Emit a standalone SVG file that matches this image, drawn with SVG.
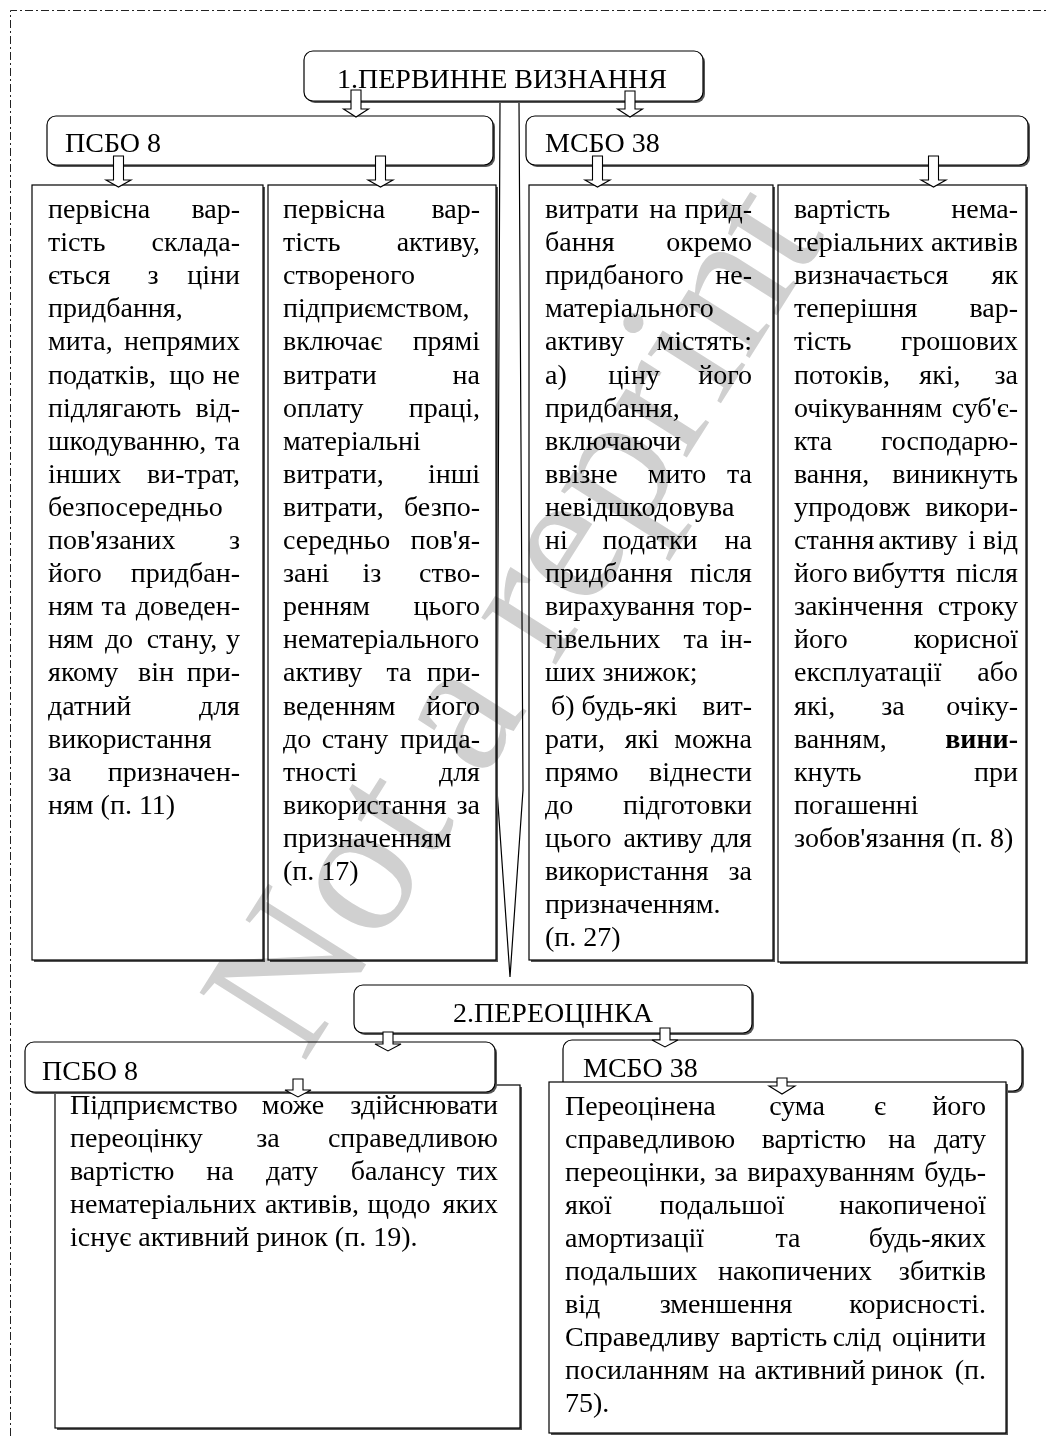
<svg xmlns="http://www.w3.org/2000/svg" width="1046" height="1436" viewBox="0 0 1046 1436">
<style>
.t{font-family:"Liberation Serif","Times New Roman",serif;font-size:28px;fill:#000}
.h{font-family:"Liberation Serif","Times New Roman",serif;font-size:28px;fill:#000}
.e{text-anchor:end}
.m{text-anchor:middle}
.b{font-weight:bold}
.box{fill:#fff;stroke:#000;stroke-width:1.2}
.sh{fill:#555}
.arr{fill:#fff;stroke:#000;stroke-width:1.1;stroke-linejoin:miter}
.wm{font-family:"Liberation Serif","Times New Roman",serif;font-size:192px;fill:#d0d0d0;mix-blend-mode:multiply}
</style>
<rect width="1046" height="1436" fill="#fff"/>
<path d="M10.5,1436 V10.5 H1046" fill="none" stroke="#222" stroke-width="1" stroke-dasharray="8 3 2 3"/>

<g id="connectors">
<polygon class="box" points="500,102 519,102 523,790 510,977 497,790"/>
</g>

<g id="header1">
<rect class="sh" x="306" y="53" width="399" height="50" rx="9"/>
<rect class="box" x="304" y="51" width="399" height="50" rx="9"/>
<text class="h" x="337" y="88">1.ПЕРВИННЕ ВИЗНАННЯ</text>
</g>

<g id="psbo8-1">
<rect class="sh" x="49" y="118" width="446" height="49" rx="9"/>
<rect class="box" x="47" y="116" width="446" height="49" rx="9"/>
<text class="h" x="65" y="152">ПСБО 8</text>
</g>

<g id="msbo38-1">
<rect class="sh" x="528" y="118" width="502" height="49" rx="9"/>
<rect class="box" x="526" y="116" width="502" height="49" rx="9"/>
<text class="h" x="545" y="152">МСБО 38</text>
</g>

<g id="boxA">
<rect class="sh" x="34" y="187" width="231" height="775"/>
<rect class="box" x="32" y="185" width="231" height="775"/>
<text class="t">
<tspan x="48" y="218">первісна</tspan><tspan x="247" y="218" class="e">вар-</tspan>
<tspan x="48" y="251">тість</tspan><tspan x="247" y="251" class="e">склада-</tspan>
<tspan x="48" y="284">ється</tspan><tspan x="153" y="284" class="m">з</tspan><tspan x="247" y="284" class="e">ціни</tspan>
<tspan x="48" y="317">придбання,</tspan>
<tspan x="48" y="350">мита,</tspan><tspan x="247" y="350" class="e">непрямих</tspan>
<tspan x="48" y="384">податків,</tspan><tspan x="187" y="384" class="m">що</tspan><tspan x="247" y="384" class="e">не</tspan>
<tspan x="48" y="417">підлягають</tspan><tspan x="247" y="417" class="e">від-</tspan>
<tspan x="48" y="450">шкодуванню,</tspan><tspan x="247" y="450" class="e">та</tspan>
<tspan x="48" y="483">інших</tspan><tspan x="247" y="483" class="e">ви-трат,</tspan>
<tspan x="48" y="516">безпосередньо</tspan>
<tspan x="48" y="549">пов'язаних</tspan><tspan x="247" y="549" class="e">з</tspan>
<tspan x="48" y="582">його</tspan><tspan x="247" y="582" class="e">придбан-</tspan>
<tspan x="48" y="615">ням</tspan><tspan x="114" y="615" class="m">та</tspan><tspan x="247" y="615" class="e">доведен-</tspan>
<tspan x="48" y="648">ням</tspan><tspan x="119" y="648" class="m">до</tspan><tspan x="182" y="648" class="m">стану,</tspan><tspan x="247" y="648" class="e">у</tspan>
<tspan x="48" y="681">якому</tspan><tspan x="156" y="681" class="m">він</tspan><tspan x="247" y="681" class="e">при-</tspan>
<tspan x="48" y="715">датний</tspan><tspan x="247" y="715" class="e">для</tspan>
<tspan x="48" y="748">використання</tspan>
<tspan x="48" y="781">за</tspan><tspan x="247" y="781" class="e">призначен-</tspan>
<tspan x="48" y="814">ням (п. 11)</tspan>
</text>
</g>

<g id="boxB">
<rect class="sh" x="270" y="187" width="228" height="775"/>
<rect class="box" x="268" y="185" width="228" height="775"/>
<text class="t">
<tspan x="283" y="218">первісна</tspan><tspan x="487" y="218" class="e">вар-</tspan>
<tspan x="283" y="251">тість</tspan><tspan x="487" y="251" class="e">активу,</tspan>
<tspan x="283" y="284">створеного</tspan>
<tspan x="283" y="317">підприємством,</tspan>
<tspan x="283" y="350">включає</tspan><tspan x="487" y="350" class="e">прямі</tspan>
<tspan x="283" y="384">витрати</tspan><tspan x="487" y="384" class="e">на</tspan>
<tspan x="283" y="417">оплату</tspan><tspan x="487" y="417" class="e">праці,</tspan>
<tspan x="283" y="450">матеріальні</tspan>
<tspan x="283" y="483">витрати,</tspan><tspan x="487" y="483" class="e">інші</tspan>
<tspan x="283" y="516">витрати,</tspan><tspan x="487" y="516" class="e">безпо-</tspan>
<tspan x="283" y="549">середньо</tspan><tspan x="487" y="549" class="e">пов'я-</tspan>
<tspan x="283" y="582">зані</tspan><tspan x="372" y="582" class="m">із</tspan><tspan x="487" y="582" class="e">ство-</tspan>
<tspan x="283" y="615">ренням</tspan><tspan x="487" y="615" class="e">цього</tspan>
<tspan x="283" y="648">нематеріального</tspan>
<tspan x="283" y="681">активу</tspan><tspan x="399" y="681" class="m">та</tspan><tspan x="487" y="681" class="e">при-</tspan>
<tspan x="283" y="715">веденням</tspan><tspan x="487" y="715" class="e">його</tspan>
<tspan x="283" y="748">до</tspan><tspan x="355" y="748" class="m">стану</tspan><tspan x="487" y="748" class="e">прида-</tspan>
<tspan x="283" y="781">тності</tspan><tspan x="487" y="781" class="e">для</tspan>
<tspan x="283" y="814">використання</tspan><tspan x="487" y="814" class="e">за</tspan>
<tspan x="283" y="847">призначенням</tspan>
<tspan x="283" y="880">(п. 17)</tspan>
</text>
</g>

<g id="boxC">
<rect class="sh" x="531" y="187" width="244" height="775"/>
<rect class="box" x="529" y="185" width="244" height="775"/>
<text class="t">
<tspan x="545" y="218">витрати</tspan><tspan x="663" y="218" class="m">на</tspan><tspan x="759" y="218" class="e">прид-</tspan>
<tspan x="545" y="251">бання</tspan><tspan x="759" y="251" class="e">окремо</tspan>
<tspan x="545" y="284">придбаного</tspan><tspan x="759" y="284" class="e">не-</tspan>
<tspan x="545" y="317">матеріального</tspan>
<tspan x="545" y="350">активу</tspan><tspan x="759" y="350" class="e">містять:</tspan>
<tspan x="545" y="384">а)</tspan><tspan x="634" y="384" class="m">ціну</tspan><tspan x="759" y="384" class="e">його</tspan>
<tspan x="545" y="417">придбання,</tspan>
<tspan x="545" y="450">включаючи</tspan>
<tspan x="545" y="483">ввізне</tspan><tspan x="677" y="483" class="m">мито</tspan><tspan x="759" y="483" class="e">та</tspan>
<tspan x="545" y="516">невідшкодовува</tspan>
<tspan x="545" y="549">ні</tspan><tspan x="650" y="549" class="m">податки</tspan><tspan x="759" y="549" class="e">на</tspan>
<tspan x="545" y="582">придбання</tspan><tspan x="759" y="582" class="e">після</tspan>
<tspan x="545" y="615">вирахування</tspan><tspan x="759" y="615" class="e">тор-</tspan>
<tspan x="545" y="648">гівельних</tspan><tspan x="696" y="648" class="m">та</tspan><tspan x="759" y="648" class="e">ін-</tspan>
<tspan x="545" y="681">ших знижок;</tspan>
<tspan x="551" y="715">б) будь-які</tspan><tspan x="759" y="715" class="e">вит-</tspan>
<tspan x="545" y="748">рати,</tspan><tspan x="642" y="748" class="m">які</tspan><tspan x="759" y="748" class="e">можна</tspan>
<tspan x="545" y="781">прямо</tspan><tspan x="759" y="781" class="e">віднести</tspan>
<tspan x="545" y="814">до</tspan><tspan x="759" y="814" class="e">підготовки</tspan>
<tspan x="545" y="847">цього</tspan><tspan x="663" y="847" class="m">активу</tspan><tspan x="759" y="847" class="e">для</tspan>
<tspan x="545" y="880">використання</tspan><tspan x="759" y="880" class="e">за</tspan>
<tspan x="545" y="913">призначенням.</tspan>
<tspan x="545" y="946">(п. 27)</tspan>
</text>
</g>

<g id="boxD">
<rect class="sh" x="780" y="187" width="248" height="777"/>
<rect class="box" x="778" y="185" width="248" height="777"/>
<text class="t">
<tspan x="794" y="218">вартість</tspan><tspan x="1025" y="218" class="e">нема-</tspan>
<tspan x="794" y="251">теріальних</tspan><tspan x="1025" y="251" class="e">активів</tspan>
<tspan x="794" y="284">визначається</tspan><tspan x="1025" y="284" class="e">як</tspan>
<tspan x="794" y="317">теперішня</tspan><tspan x="1025" y="317" class="e">вар-</tspan>
<tspan x="794" y="350">тість</tspan><tspan x="1025" y="350" class="e">грошових</tspan>
<tspan x="794" y="384">потоків,</tspan><tspan x="940" y="384" class="m">які,</tspan><tspan x="1025" y="384" class="e">за</tspan>
<tspan x="794" y="417">очікуванням</tspan><tspan x="1025" y="417" class="e">суб'є-</tspan>
<tspan x="794" y="450">кта</tspan><tspan x="1025" y="450" class="e">господарю-</tspan>
<tspan x="794" y="483">вання,</tspan><tspan x="1025" y="483" class="e">виникнуть</tspan>
<tspan x="794" y="516">упродовж</tspan><tspan x="1025" y="516" class="e">викори-</tspan>
<tspan x="794" y="549">стання</tspan><tspan x="918" y="549" class="m">активу</tspan><tspan x="972" y="549" class="m">і</tspan><tspan x="1025" y="549" class="e">від</tspan>
<tspan x="794" y="582">його</tspan><tspan x="899" y="582" class="m">вибуття</tspan><tspan x="1025" y="582" class="e">після</tspan>
<tspan x="794" y="615">закінчення</tspan><tspan x="1025" y="615" class="e">строку</tspan>
<tspan x="794" y="648">його</tspan><tspan x="1025" y="648" class="e">корисної</tspan>
<tspan x="794" y="681">експлуатації</tspan><tspan x="1025" y="681" class="e">або</tspan>
<tspan x="794" y="715">які,</tspan><tspan x="893" y="715" class="m">за</tspan><tspan x="1025" y="715" class="e">очіку-</tspan>
<tspan x="794" y="748">ванням,</tspan><tspan x="1025" y="748" class="e b">вини-</tspan>
<tspan x="794" y="781">кнуть</tspan><tspan x="1025" y="781" class="e">при</tspan>
<tspan x="794" y="814">погашенні</tspan>
<tspan x="794" y="847">зобов'язання (п. 8)</tspan>
</text>
</g>

<g id="header2">
<rect class="sh" x="356" y="987" width="398" height="48" rx="9"/>
<rect class="box" x="354" y="985" width="398" height="48" rx="9"/>
<text class="h" x="553" y="1022" text-anchor="middle">2.ПЕРЕОЦІНКА</text>
</g>

<g id="psbo8-2-text">
<rect class="sh" x="57" y="1087" width="465" height="343"/>
<rect class="box" x="55" y="1085" width="465" height="343"/>
<text class="t">
<tspan x="70" y="1114">Підприємство</tspan><tspan x="293" y="1114" class="m">може</tspan><tspan x="505" y="1114" class="e">здійснювати</tspan>
<tspan x="70" y="1147">переоцінку</tspan><tspan x="268" y="1147" class="m">за</tspan><tspan x="505" y="1147" class="e">справедливою</tspan>
<tspan x="70" y="1180">вартістю</tspan><tspan x="220" y="1180" class="m">на</tspan><tspan x="292" y="1180" class="m">дату</tspan><tspan x="398" y="1180" class="m">балансу</tspan><tspan x="505" y="1180" class="e">тих</tspan>
<tspan x="70" y="1213">нематеріальних</tspan><tspan x="312" y="1213" class="m">активів,</tspan><tspan x="399" y="1213" class="m">щодо</tspan><tspan x="505" y="1213" class="e">яких</tspan>
<tspan x="70" y="1246">існує активний ринок (п. 19).</tspan>
</text>
</g>

<g id="psbo8-2">
<rect class="sh" x="27" y="1044" width="470" height="50" rx="9"/>
<rect class="box" x="25" y="1042" width="470" height="50" rx="9"/>
<text class="h" x="42" y="1080">ПСБО 8</text>
</g>

<g id="msbo38-2">
<rect class="sh" x="565" y="1042" width="459" height="51" rx="9"/>
<rect class="box" x="563" y="1040" width="459" height="51" rx="9"/>
<text class="h" x="583" y="1077">МСБО 38</text>
</g>

<g id="msbo38-2-text">
<rect class="sh" x="551" y="1084" width="457" height="351"/>
<rect class="box" x="549" y="1082" width="457" height="351"/>
<text class="t">
<tspan x="565" y="1115">Переоцінена</tspan><tspan x="797" y="1115" class="m">сума</tspan><tspan x="880" y="1115" class="m">є</tspan><tspan x="993" y="1115" class="e">його</tspan>
<tspan x="565" y="1148">справедливою</tspan><tspan x="814" y="1148" class="m">вартістю</tspan><tspan x="902" y="1148" class="m">на</tspan><tspan x="993" y="1148" class="e">дату</tspan>
<tspan x="565" y="1181">переоцінки,</tspan><tspan x="726" y="1181" class="m">за</tspan><tspan x="831" y="1181" class="m">вирахуванням</tspan><tspan x="993" y="1181" class="e">будь-</tspan>
<tspan x="565" y="1214">якої</tspan><tspan x="722" y="1214" class="m">подальшої</tspan><tspan x="993" y="1214" class="e">накопиченої</tspan>
<tspan x="565" y="1247">амортизації</tspan><tspan x="788" y="1247" class="m">та</tspan><tspan x="993" y="1247" class="e">будь-яких</tspan>
<tspan x="565" y="1280">подальших</tspan><tspan x="795" y="1280" class="m">накопичених</tspan><tspan x="993" y="1280" class="e">збитків</tspan>
<tspan x="565" y="1313">від</tspan><tspan x="726" y="1313" class="m">зменшення</tspan><tspan x="993" y="1313" class="e">корисності.</tspan>
<tspan x="565" y="1346">Справедливу</tspan><tspan x="779" y="1346" class="m">вартість</tspan><tspan x="857" y="1346" class="m">слід</tspan><tspan x="993" y="1346" class="e">оцінити</tspan>
<tspan x="565" y="1379">посиланням</tspan><tspan x="732" y="1379" class="m">на</tspan><tspan x="810" y="1379" class="m">активний</tspan><tspan x="907" y="1379" class="m">ринок</tspan><tspan x="993" y="1379" class="e">(п.</tspan>
<tspan x="565" y="1412">75).</tspan>
</text>
</g>

<g id="arrows">
<path class="arr" d="M351,90 h10 v19 h7.5 l-12.5,8 l-12.5,-8 h7.5 z"/>
<path class="arr" d="M625,91 h10 v18 h7.5 l-12.5,8 l-12.5,-8 h7.5 z"/>
<path class="arr" d="M113.5,156 h10 v24 h7.5 l-12.5,7 l-12.5,-7 h7.5 z"/>
<path class="arr" d="M375.5,156 h10 v24 h7.5 l-12.5,7 l-12.5,-7 h7.5 z"/>
<path class="arr" d="M592.5,156 h10 v24 h7.5 l-12.5,7 l-12.5,-7 h7.5 z"/>
<path class="arr" d="M928.5,156 h10 v24 h7.5 l-12.5,7 l-12.5,-7 h7.5 z"/>
<path class="arr" d="M383,1032 h10 v12 h8 l-13,7 l-13,-7 h8 z"/>
<path class="arr" d="M660,1028 h10 v12 h8 l-13,7 l-13,-7 h8 z"/>
<path class="arr" d="M293,1079 h10 v11 h8 l-13,7 l-13,-7 h8 z"/>
<path class="arr" d="M777,1078 h10 v8 h8 l-13,8 l-13,-8 h8 z"/>
</g>

<text class="wm" transform="translate(565,650) rotate(-57.7)" text-anchor="middle">Not a reprint</text>
</svg>
